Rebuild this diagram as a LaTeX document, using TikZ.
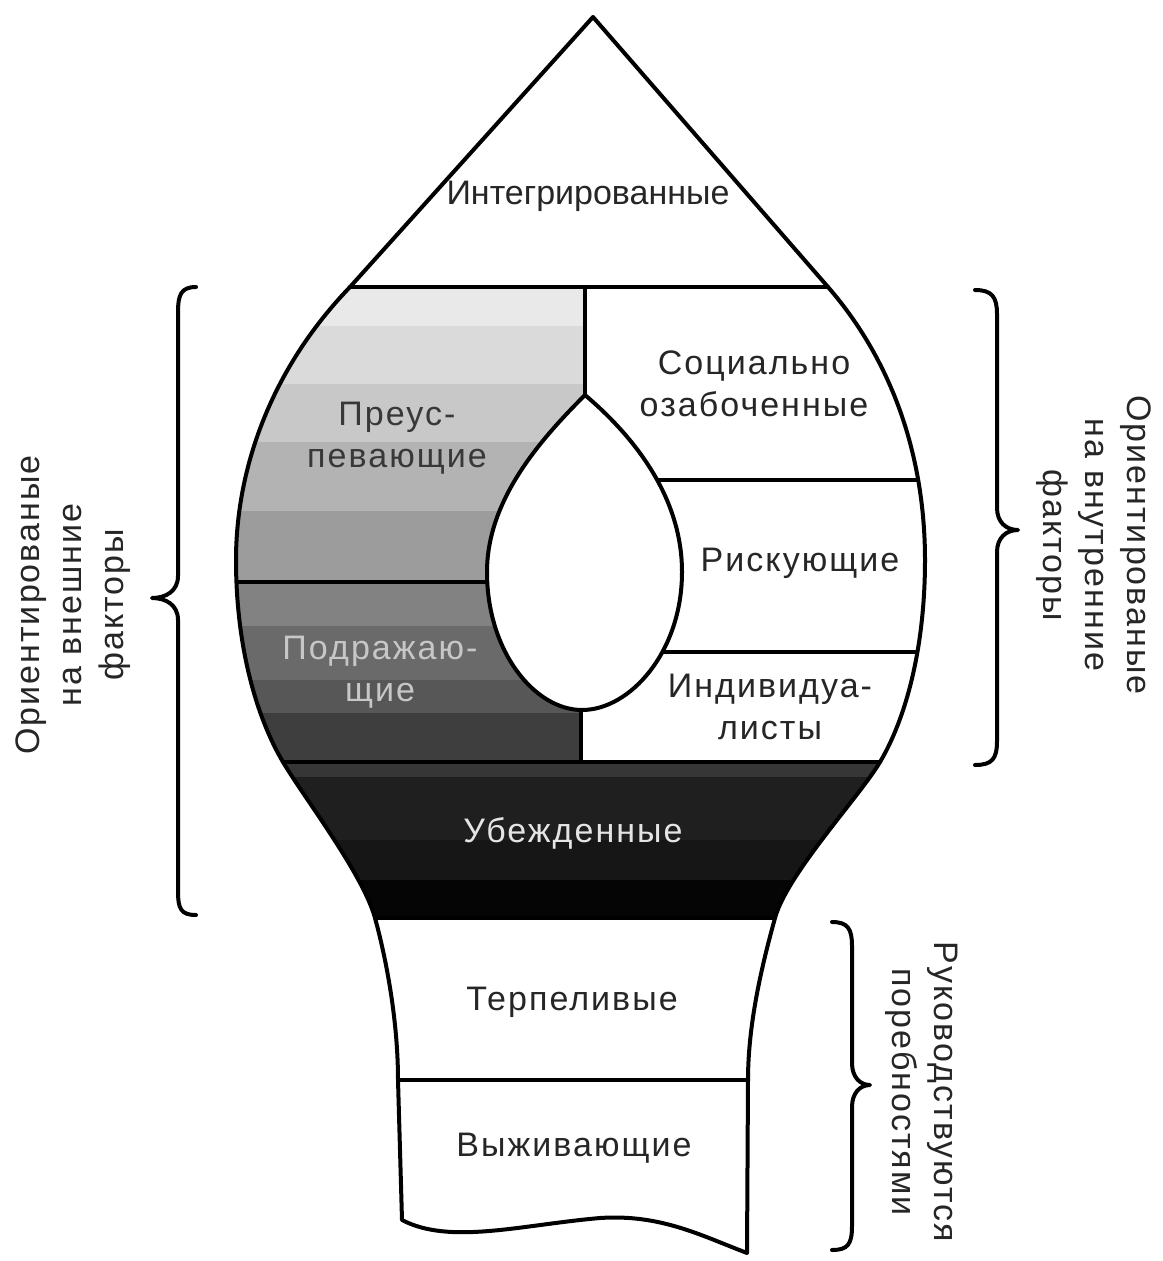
\documentclass[tikz,border=0pt]{standalone}
\usepackage{fontspec}
\setmainfont{Liberation Sans}
\newfontfamily\lblfam[LetterSpace=6]{Liberation Sans}
\newfontfamily\lblfamn{Liberation Sans}
\newcommand\lblfont{\lblfam\fontsize{34}{42}\selectfont}
\newcommand\lblfontn{\lblfamn\fontsize{34}{42}\selectfont}
\definecolor{txt}{HTML}{262626}
\definecolor{ba}{HTML}{E9E9E9}
\definecolor{bb}{HTML}{DADADA}
\definecolor{bc}{HTML}{C8C8C8}
\definecolor{bd}{HTML}{B3B3B3}
\definecolor{be}{HTML}{9C9C9C}
\definecolor{bf}{HTML}{828282}
\definecolor{bg}{HTML}{6A6A6A}
\definecolor{bh}{HTML}{575757}
\definecolor{bi}{HTML}{3E3E3E}
\definecolor{ua}{HTML}{363636}
\definecolor{ub}{HTML}{1F1F1F}
\definecolor{uc}{HTML}{161616}
\definecolor{ud}{HTML}{050505}
\begin{document}
\begin{tikzpicture}[x=1pt,y=-1pt,line join=round,line cap=round,
  outl/.style={line width=4pt,draw=black},
  brc/.style={line width=4pt,draw=black},
  lbl/.style={font=\lblfont,text=txt,align=center,inner sep=0pt},
  lbln/.style={font=\lblfontn,text=txt,align=center,inner sep=0pt}]
\useasboundingbox (0,0) rectangle (1162,1261);
\fill[white] (0,0) rectangle (1162,1261);

% left column shaded bands
\begin{scope}
\clip (350,287) -- (585,287) -- (585,560) -- (581,560) -- (581,762) -- (283,762)
  .. controls (258,720) and (236,650) .. (236,560)
  .. controls (236,470) and (270,370) .. (350,287) -- cycle;
\fill[ba] (200,280) rectangle (600,326);
\fill[bb] (200,326) rectangle (600,384);
\fill[bc] (200,384) rectangle (600,442);
\fill[bd] (200,442) rectangle (600,511);
\fill[be] (200,511) rectangle (600,582);
\fill[bf] (200,582) rectangle (600,626);
\fill[bg] (200,626) rectangle (600,680);
\fill[bh] (200,680) rectangle (600,713);
\fill[bi] (200,713) rectangle (600,770);
\end{scope}

% Ubezhdennye band
\begin{scope}
\clip (283,762) -- (880,762) .. controls (860,796) and (787,874) .. (775,918)
  -- (375,918) .. controls (363,874) and (303,796) .. (283,762) -- cycle;
\fill[ua] (250,755) rectangle (900,777);
\fill[ub] (250,777) rectangle (900,840);
\fill[uc] (250,840) rectangle (900,880);
\fill[ud] (250,880) rectangle (900,925);
\end{scope}

% inner dividers
\begin{scope}
\clip (350,287) -- (828,287) .. controls (900,370) and (925,470) .. (925,560)
  .. controls (925,650) and (905,720) .. (880,762) -- (283,762)
  .. controls (258,720) and (236,650) .. (236,560)
  .. controls (236,470) and (270,370) .. (350,287) -- cycle;
\draw[outl] (585,287) -- (585,420);
\draw[outl] (581,690) -- (581,762);
\draw[outl] (200,582) -- (600,582);
\draw[outl] (600,480) -- (960,480);
\draw[outl] (600,652) -- (960,652);
\end{scope}

% drop
\filldraw[outl,fill=white] (585,395) .. controls (540,440) and (487,500) .. (487,572)
  .. controls (487,652) and (535,710) .. (582,710)
  .. controls (630,710) and (682,652) .. (682,572)
  .. controls (682,500) and (638,440) .. (585,395) -- cycle;

% horizontal dividers
\draw[outl] (350,287) -- (828,287);
\draw[outl] (283,762) -- (880,762);
\draw[outl] (375,918) -- (775,918);
\draw[outl] (398,1080) -- (748,1080);

% outline
\draw[outl] (593,17) -- (828,287)
  .. controls (900,370) and (925,470) .. (925,560)
  .. controls (925,650) and (905,720) .. (880,762)
  .. controls (860,796) and (787,874) .. (775,918)
  .. controls (764,958) and (748,1020) .. (748,1080) -- (747,1253)
  .. controls (700,1235) and (660,1214) .. (600,1218)
  .. controls (520,1225) and (450,1245) .. (402,1220) -- (398,1080)
  .. controls (398,1020) and (386,958) .. (375,918)
  .. controls (363,874) and (303,796) .. (283,762)
  .. controls (258,720) and (236,650) .. (236,560)
  .. controls (236,470) and (270,370) .. (350,287) -- cycle;

% braces
\draw[brc] (196,287) .. controls (181,287) and (178,295) .. (178,312) -- (178,576)
  .. controls (178,591) and (166,598) .. (152,598)
  .. controls (166,598) and (178,605) .. (178,620) -- (178,891)
  .. controls (178,909) and (181,915) .. (196,915);
\draw[brc] (975,290) .. controls (992,290) and (997,297) .. (997,314) -- (997,508)
  .. controls (997,522) and (1006,530) .. (1018,530)
  .. controls (1006,530) and (997,538) .. (997,552) -- (997,741)
  .. controls (997,759) and (992,765) .. (975,765);
\draw[brc] (832,922) .. controls (848,922) and (852,929) .. (852,946) -- (852,1063)
  .. controls (852,1077) and (860,1085) .. (870,1085)
  .. controls (860,1085) and (852,1093) .. (852,1107) -- (852,1226)
  .. controls (852,1244) and (848,1250) .. (832,1250);

% labels
\node[lbln] (integ) at (588,196) {Интегрированные};
\node[lbl] (socz) at (754,384) {Социально\\озабоченные};
\node[lbl,text=black!78] (preus) at (397,438) {Преус-\\певающие};
\node[lbl,text=black!22] (podr) at (380,672) {Подражаю-\\щие};
\node[lbl] (risk) at (800,563) {Рискующие};
\node[lbl] (indiv) at (770,707) {Индивидуа-\\листы};
\node[lbl,text=black!10] (ubezh) at (573,833) {Убежденные};
\node[lbl] (terp) at (572,1002) {Терпеливые};
\node[lbl] (vyzh) at (574,1148) {Выживающие};
\node[lbl,rotate=90] (ext) at (73,605) {Ориентированые\\на внешние\\факторы};
\node[lbl,rotate=-90] (intf) at (1094,545) {Ориентированые\\на внутренние\\факторы};
\node[lbl,rotate=-90] (needs) at (922,1092) {Руководствуются\\поребностями};
\end{tikzpicture}
\end{document}
